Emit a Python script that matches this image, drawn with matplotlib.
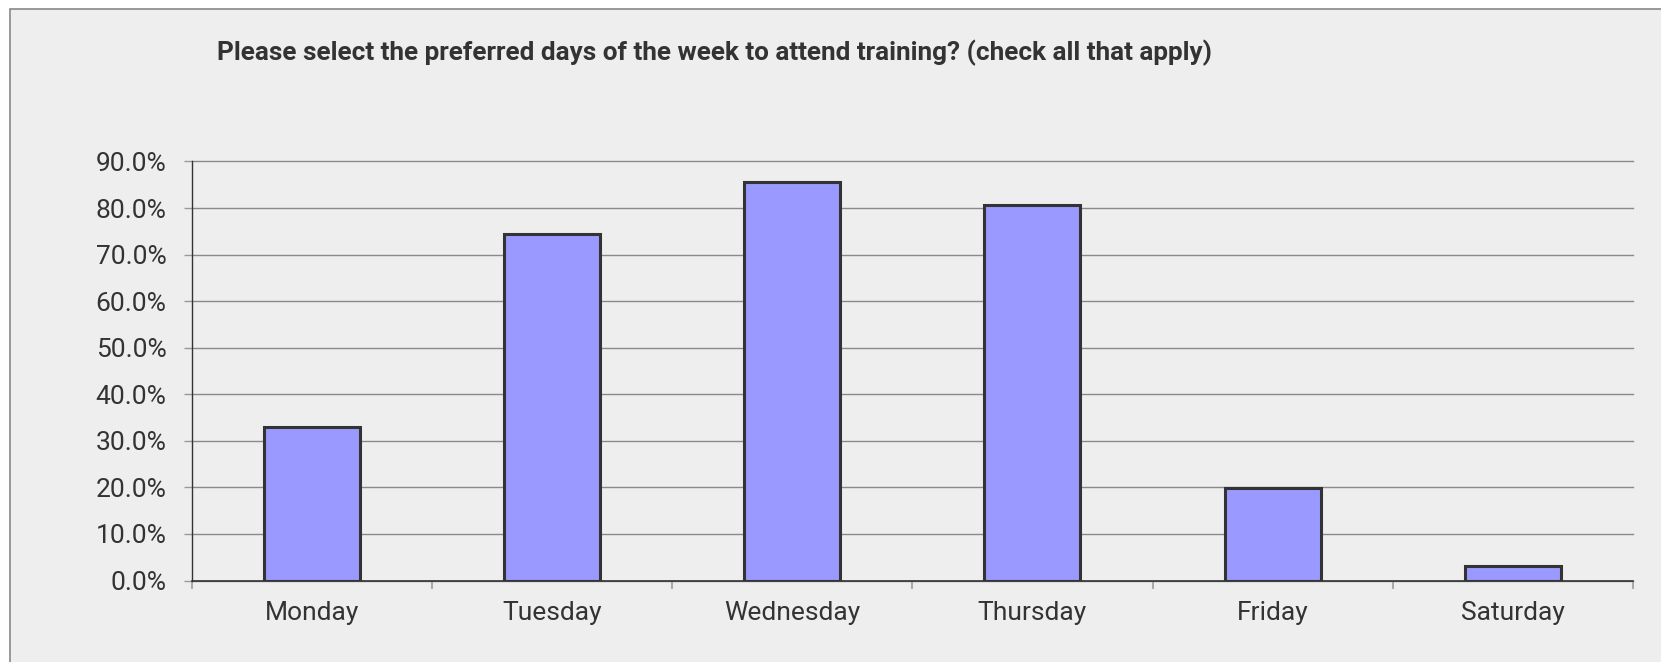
import numpy as np
import matplotlib
matplotlib.use('Agg')
import matplotlib.pyplot as plt
from matplotlib.patches import Rectangle

#----------------------------------------------------------------------
# DATA
days = ['Monday', 'Tuesday', 'Wednesday', 'Thursday', 'Friday', 'Saturday']
share = [32.9, 74.5, 85.6, 80.7, 19.8, 3.2]     # percent of respondents
yticks = [0, 10, 20, 30, 40, 50, 60, 70, 80, 90]
title = 'Please select the preferred days of the week to attend training? (check all that apply)'

#----------------------------------------------------------------------
# STYLE
plt.rcParams['font.family'] = ['Roboto', 'DejaVu Sans']
bg = '#eeeeee'
txt = '#333333'

W, H = 1661, 662
fig = plt.figure(figsize=(W/100, H/100), dpi=100, facecolor='white')

# chart area frame (only top/left edge visible in the original)
frame = Rectangle((9.5/W, -0.1), 1.2, 1.1 - 9/H, transform=fig.transFigure,
                  facecolor=bg, edgecolor='#888888', linewidth=1.2, zorder=-10)
fig.patches.append(frame)

ax = fig.add_axes([191.5/W, 1 - 580.5/H, (1633 - 191.5)/W, (580.5 - 161.5)/H])
ax.set_facecolor(bg)

x = np.arange(len(days))
ax.bar(x, share, width=0.4, color='#9999ff', edgecolor='#333333', linewidth=2.2, zorder=3)

ax.set_xlim(-0.5, len(days) - 0.5)
ax.set_ylim(0, 90)

# y axis
ax.set_yticks(yticks)
ax.set_yticklabels(['%.1f%%' % v for v in yticks])
ax.yaxis.grid(True, color='#8a8a8a', linewidth=1.0, zorder=0)
for gl in ax.get_ygridlines():
    gl.set_clip_on(False)
ax.tick_params(axis='y', length=6, width=1, color='#999999', pad=12,
               labelsize=19, labelcolor=txt)

# x axis: ticks at category boundaries, labels centred
ax.set_xticks(np.arange(len(days) + 1) - 0.5)
ax.set_xticklabels([])
ax.set_xticks(x, minor=True)
ax.set_xticklabels(days, minor=True)
ax.tick_params(axis='x', which='major', length=6, width=1.5, color='#aaaaaa')
ax.tick_params(axis='x', which='minor', length=0, pad=15, labelsize=19, labelcolor=txt)

for s in ['top', 'right']:
    ax.spines[s].set_visible(False)
ax.spines['left'].set_color('#333333')
ax.spines['bottom'].set_color('#333333')
ax.spines['left'].set_linewidth(1.0)
ax.spines['bottom'].set_linewidth(1.2)

fig.text(217/W, 1 - 53/H, title, ha='left', va='center', fontsize=18.8,
         fontweight='bold', color=txt)

fig.savefig('out.png', dpi=100, facecolor='white')
